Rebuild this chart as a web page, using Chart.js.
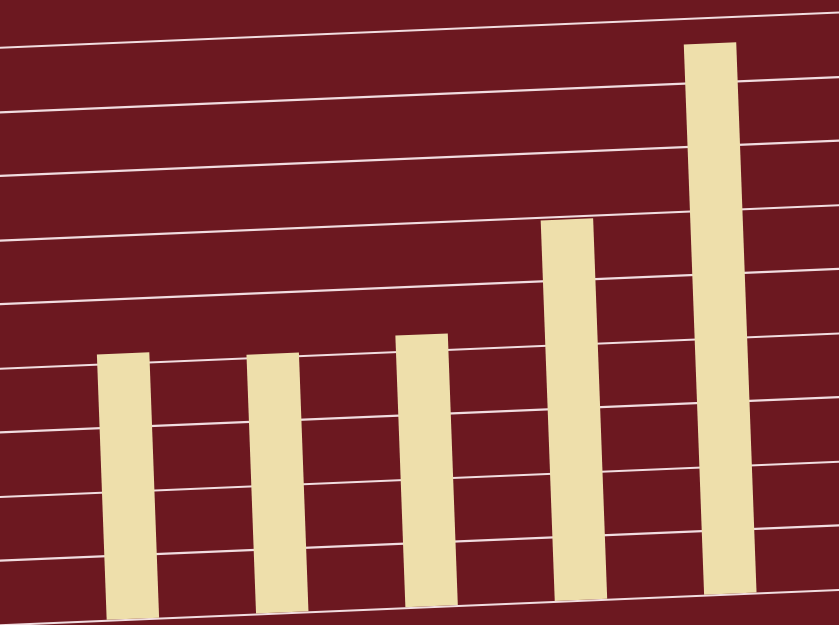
<!DOCTYPE html>
<html>
<head>
<meta charset="utf-8">
<style>
  html, body { margin: 0; padding: 0; background: #6c1820; overflow: hidden; }
  #chart { display: block; }
</style>
<script src="https://cdn.jsdelivr.net/npm/chart.js@4/dist/chart.umd.min.js"></script>
</head>
<body>
<canvas id="chart" width="839" height="625"></canvas>
<script>
// values (grid step = 1)
const categories = ['1', '2', '3', '4', '5'];
const values = [4.15, 4.05, 4.25, 5.95, 8.6];
const gridSteps = [0, 1, 2, 3, 4, 5, 6, 7, 8, 9];

// the photo was taken at an angle, so the whole plot is skewed a little
const skew = { a: 1.035, b: -0.0435, c: 0.0391, d: 1.058, e: -24.45, f: 0 };

const paperPlugin = {
    id: 'paper',
    beforeDraw(chart) {
        const ctx = chart.ctx;
        ctx.save();
        ctx.fillStyle = '#6c1820';
        ctx.fillRect(0, 0, chart.width, chart.height);
        ctx.restore();
        ctx.save();
        ctx.transform(skew.a, skew.b, skew.c, skew.d, skew.e, skew.f);
    },
    afterDraw(chart) {
        chart.ctx.restore();
    }
};

const ctx = document.getElementById('chart').getContext('2d');

new Chart(ctx, {
    type: 'bar',
    data: {
        labels: categories,
        datasets: [{
            label: 'value',
            data: values.map((v, i) => ({ x: i, y: v })),
            backgroundColor: '#eedfab',
            borderWidth: 0,
            barThickness: 50
        }]
    },
    options: {
        responsive: false,
        animation: false,
        layout: { padding: 0 },
        plugins: {
            legend: { display: false },
            tooltip: { enabled: false }
        },
        scales: {
            x: {
                type: 'linear',
                display: false,
                offset: false,
                min: -0.899,
                max: 4.915
            },
            y: {
                min: -0.565,
                max: 9.765,
                ticks: {
                    display: false,
                    stepSize: 1,
                    includeBounds: false
                },
                border: { display: false },
                grid: {
                    drawTicks: false,
                    lineWidth: 2,
                    color: c => gridSteps.includes(c.tick.value) ? '#f1dde0' : 'rgba(0,0,0,0)'
                }
            }
        }
    },
    plugins: [paperPlugin]
});
</script>
</body>
</html>
